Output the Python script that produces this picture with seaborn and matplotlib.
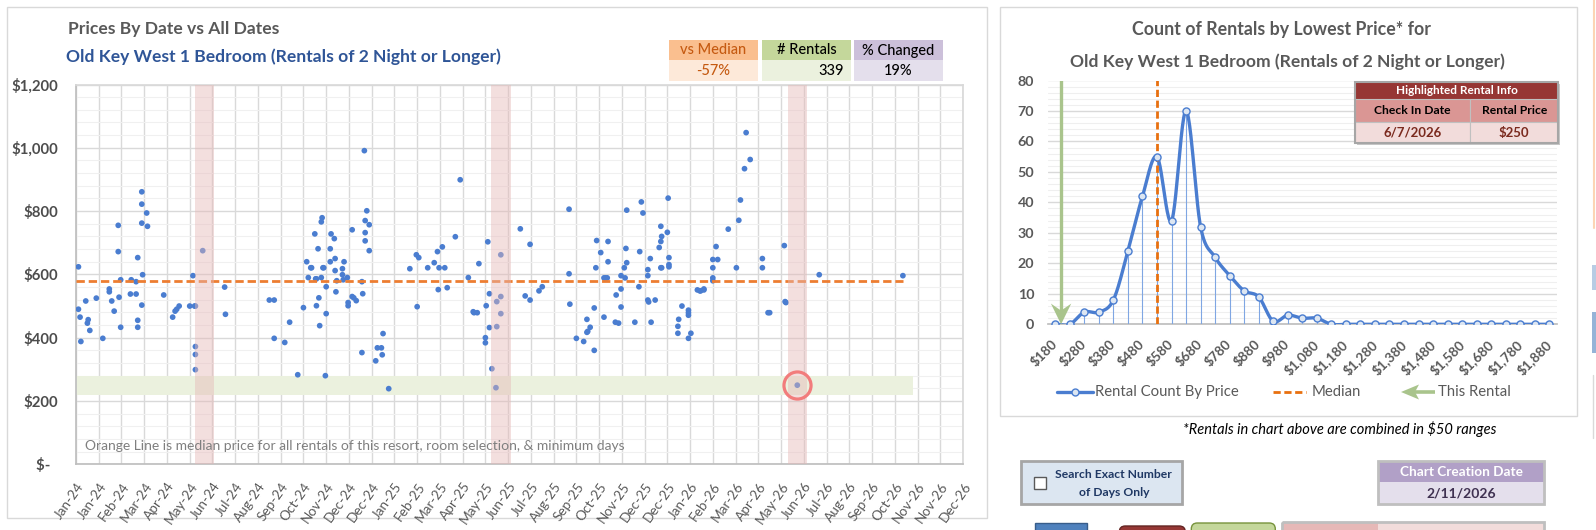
import matplotlib
matplotlib.use("Agg")
import matplotlib.pyplot as plt
import matplotlib.dates as mdates
import matplotlib.transforms as mtrans
from matplotlib.patches import Rectangle, FancyBboxPatch, Polygon
from matplotlib.ticker import MultipleLocator, FixedLocator
import seaborn as sns
import pandas as pd
import numpy as np

W, H = 1596, 530

# ---------------- data ----------------
# left chart: check-in day (days after 2024-01-01) and lowest price
rental_day = [
    3, 3, 5, 6, 12, 14, 15, 17, 25, 33, 41, 41, 44, 47, 52, 52, 53, 55, 55, 68,
    67, 74, 74, 76, 76, 76, 81, 81, 81, 87, 88, 82, 81, 108, 119, 122, 124, 127, 140, 144,
    146, 147, 147, 147, 147, 156, 183, 184, 238, 244, 244, 257, 263, 273,
    280, 284, 286, 289, 290, 294, 295, 296, 296, 298, 299, 300, 302, 302, 303, 304,
    305, 307, 308, 308, 313, 313, 314, 318, 319, 319, 320, 321, 328, 328, 329, 330,
    334, 335, 335, 340, 340, 342, 345, 352, 353, 352, 355, 356, 356, 356, 358, 361,
    361, 369, 371, 376, 377, 378, 385, 411, 419, 422, 420, 433, 441, 445, 447, 451,
    454, 446, 457, 467, 473, 483, 489, 490, 494, 496, 504, 504, 505, 507, 509, 509,
    512, 517, 518, 518, 523, 523, 523, 547,
    559, 553, 559, 570, 574, 607, 607, 608, 616, 625, 629, 629, 630, 633, 638, 638,
    640, 641, 646, 650, 652, 654, 655, 655, 650, 664, 665, 668, 671, 671, 671, 675,
    676, 677, 678, 678, 688, 693, 694, 696, 698, 704, 704, 704, 705, 707, 708, 713,
    718, 720, 720, 721, 720, 721, 728, 729, 730, 730, 730, 741, 741, 742, 746, 754,
    754, 754, 754, 757, 765, 768, 769, 773, 773, 784, 784, 784, 784, 788, 790, 803,
    813, 816, 818,
    823, 825, 830, 845, 845, 852, 854, 872, 873, 874, 888, 915, 1018,
]
rental_price = [
    624, 490, 465, 388, 516, 446, 457, 423, 525, 398, 554, 545, 516, 484, 755, 672, 528, 583, 433, 583,
    538, 577, 538, 653, 455, 433, 861, 822, 762, 794, 752, 599, 503, 535, 465, 484, 490, 500, 500, 596,
    500, 500, 372, 347, 299, 675, 560, 474, 519, 519, 398, 385, 449, 283,
    495, 640, 590, 621, 621, 728, 586, 586, 501, 681, 526, 438, 590, 766, 779, 621,
    621, 280, 561, 476, 681, 640, 728, 713, 650, 612, 545, 580, 599, 618, 583, 640,
    590, 511, 501, 530, 741, 526, 517, 577, 539, 353, 991, 770, 732, 706, 801, 757,
    675, 327, 368, 368, 346, 413, 239, 618, 662, 653, 498, 621, 637, 672, 621, 687,
    621, 552, 558, 719, 899, 590, 482, 479, 479, 634, 400, 384, 501, 703, 539, 432,
    302, 242, 514, 435, 662, 530, 476, 744,
    695, 532, 519, 548, 561, 806, 602, 506, 398, 388, 458, 417, 420, 433, 494, 360,
    621, 707, 669, 589, 589, 589, 704, 640, 465, 449, 535, 446, 596, 554, 497, 621,
    589, 682, 803, 637, 449, 561, 672, 829, 794, 615, 596, 519, 513, 650, 449, 519,
    685, 704, 621, 621, 752, 720, 733, 841, 653, 631, 624, 436, 414, 458, 500, 487,
    479, 471, 398, 414, 551, 548, 548, 554, 551, 647, 621, 589, 580, 688, 647, 743,
    621, 771, 835,
    934, 1048, 963, 650, 621, 479, 479, 691, 514, 511, 250, 599, 596,
]
median_price = 580
median_end_day = 1018
band_end_day = 1031
highlight_date = "2026-06-07"
highlight_price = 250
highlight_years = [2024, 2025, 2026]
price_ticks = [0, 200, 400, 600, 800, 1000, 1200]
price_tick_labels = ["$-  ", "$200", "$400", "$600", "$800", "$1,000", "$1,200"]

# right chart: counts per $50 range
bin_labels = ["$180", "$230", "$280", "$330", "$380", "$430", "$480", "$530", "$580", "$630",
              "$680", "$730", "$780", "$830", "$880", "$930", "$980", "$1,030", "$1,080", "$1,130",
              "$1,180", "$1,230", "$1,280", "$1,330", "$1,380", "$1,430", "$1,480", "$1,530",
              "$1,580", "$1,630", "$1,680", "$1,730", "$1,780", "$1,830", "$1,880"]
bin_counts = [0, 0, 4, 4, 8, 24, 42, 55, 34, 70, 32, 22, 16, 11, 9, 1, 3, 2, 2, 0,
              0, 0, 0, 0, 0, 0, 0, 0, 0, 0, 0, 0, 0, 0, 0]
median_bin = "$530"
this_rental_pos = 0.4

GRAY = "#595959"
BLUE = "#4A7DD0"


def box(x0, y0, x1, y1):
    return [x0 / W, 1 - y1 / H, (x1 - x0) / W, (y1 - y0) / H]


def smooth_curve(y, n=24):
    # excel style smoothed line (catmull-rom)
    y = np.asarray(y, float)
    m = np.gradient(y)
    t = np.linspace(0, 1, n, endpoint=False)
    h00 = 2 * t**3 - 3 * t**2 + 1
    h10 = t**3 - 2 * t**2 + t
    h01 = -2 * t**3 + 3 * t**2
    h11 = t**3 - t**2
    xs, ys = [], []
    for i in range(len(y) - 1):
        xs.append(i + t)
        ys.append(h00 * y[i] + h10 * m[i] + h01 * y[i + 1] + h11 * m[i + 1])
    xs.append([len(y) - 1])
    ys.append([y[-1]])
    return np.concatenate(xs), np.concatenate(ys)


sns.set_theme(style="white")
plt.rcParams["font.family"] = ["Lato", "DejaVu Sans"]

fig = plt.figure(figsize=(W / 100, H / 100), dpi=100)
fig.patch.set_facecolor("white")

bg = fig.add_axes([0, 0, 1, 1], zorder=0)
bg.set_xlim(0, W)
bg.set_ylim(H, 0)
bg.axis("off")
bg.add_patch(Rectangle((7, 7), 980, 511, fc="white", ec="#D9D9D9", lw=1))
bg.add_patch(Rectangle((1000, 7), 577, 409, fc="white", ec="#D9D9D9", lw=1))

# ---------------- left chart ----------------
start = pd.Timestamp("2024-01-01")
df = pd.DataFrame({"date": start + pd.to_timedelta(rental_day, unit="D"),
                   "price": rental_price})

axL = fig.add_axes(box(76, 84.5, 963, 464.3), zorder=2)
axL.set_facecolor("none")
axL.axhspan(220, 280, xmin=0, xmax=band_end_day / 1092, color="#EBF1DE", lw=0, zorder=1)
sns.scatterplot(data=df, x="date", y="price", ax=axL, s=17, color=BLUE,
                edgecolor="none", zorder=3, legend=False)
axL.plot([start, start + pd.Timedelta(days=median_end_day)], [median_price, median_price],
         color="#ED7D31", lw=2, dashes=(3, 1.4), zorder=3.5)
for yr in highlight_years:
    c = pd.Timestamp(f"{yr}-06-07")
    axL.axvspan(c - pd.Timedelta(days=12), c + pd.Timedelta(days=12),
                color="#E6B8B7", alpha=0.45, lw=0, zorder=4)
axL.plot([pd.Timestamp(highlight_date)], [highlight_price], "o", ms=19.5, mfc="none",
         mec="#F27C7C", mew=2.3, zorder=6)

ticks = [start + pd.Timedelta(days=28 * k) for k in range(40)]
axL.set_xlim(start, start + pd.Timedelta(days=1092))
axL.set_ylim(0, 1200)
axL.set_xticks(ticks)
axL.xaxis.set_major_formatter(mdates.DateFormatter("%b-%y"))
axL.set_yticks(price_ticks, labels=price_tick_labels)
axL.yaxis.set_minor_locator(MultipleLocator(40))
axL.set_xlabel("")
axL.set_ylabel("")
axL.grid(True, which="major", color="#D9D9D9", lw=1)
axL.grid(True, which="minor", axis="y", color="#F0F0F0", lw=0.8)
axL.set_axisbelow(True)
for s in axL.spines.values():
    s.set_color("#D9D9D9")
axL.spines["bottom"].set_color("#BFBFBF")
axL.spines["left"].set_color("#BFBFBF")
axL.tick_params(axis="x", length=4, color="#BFBFBF", pad=10, labelsize=9.8, labelcolor=GRAY)
axL.tick_params(axis="y", which="both", length=0, pad=13, labelsize=10.7, labelcolor="#4D4D4D")
for lab in axL.get_xticklabels():
    lab.set_rotation(55)
    lab.set_ha("right")
    lab.set_va("center")
    lab.set_rotation_mode("anchor")
    lab.set_transform(lab.get_transform() + mtrans.ScaledTranslation(5 / 100, 0, fig.dpi_scale_trans))
for lab in axL.get_yticklabels():
    lab.set_fontweight("bold")

# ---------------- right chart ----------------
x = np.arange(len(bin_counts))
sx, sy = smooth_curve(bin_counts)

axR = fig.add_axes(box(1048, 80.5, 1556.6, 324.3), zorder=2)
axR.set_facecolor("none")
axR.vlines(x, 0, bin_counts, color="#7FA6E3", lw=0.8, zorder=3)
sns.lineplot(x=sx, y=sy, ax=axR, color=BLUE, lw=2.4, estimator=None, sort=False, zorder=4)
sns.scatterplot(x=x, y=bin_counts, ax=axR, s=26, color="#DCE6F2", edgecolor=BLUE,
                linewidth=1, zorder=5, legend=False)
axR.axvline(bin_labels.index(median_bin), color="#E8700F", lw=2, dashes=(2.6, 1.3), zorder=4.5)
# this rental arrow
axR.plot([this_rental_pos, this_rental_pos], [80, 4.5], color="#A9C48C", lw=2.4, zorder=6,
         solid_capstyle="butt")
axR.add_patch(Polygon([(this_rental_pos - 0.7, 6.8), (this_rental_pos, 0),
                       (this_rental_pos + 0.7, 6.8), (this_rental_pos, 4.5)],
                      closed=True, fc="#A9C48C", ec="none", zorder=6, clip_on=False))
axR.set_xlim(-0.5, len(bin_counts) - 0.5)
axR.set_ylim(0, 80)
axR.yaxis.set_major_locator(MultipleLocator(10))
axR.yaxis.set_minor_locator(MultipleLocator(2))
axR.set_xticks(x[::2])
axR.set_xticklabels(bin_labels[::2])
axR.xaxis.set_minor_locator(FixedLocator(np.arange(-0.5, len(bin_counts), 1)))
axR.grid(True, which="major", axis="y", color="#D9D9D9", lw=1)
axR.grid(True, which="minor", axis="y", color="#EFEFEF", lw=0.8)
axR.set_axisbelow(True)
for k in ["top", "right", "left"]:
    axR.spines[k].set_visible(False)
axR.spines["bottom"].set_color("#BFBFBF")
axR.tick_params(axis="x", which="major", length=0, pad=13, labelsize=9.8, labelcolor=GRAY)
axR.tick_params(axis="x", which="minor", length=4, color="#BFBFBF", direction="out")
axR.tick_params(axis="y", which="both", length=0, pad=10, labelsize=10.3, labelcolor=GRAY)
for lab in axR.get_xticklabels():
    lab.set_rotation(45)
    lab.set_ha("right")
    lab.set_va("center")
    lab.set_rotation_mode("anchor")
    lab.set_fontweight("bold")
for lab in axR.get_yticklabels():
    lab.set_fontweight("bold")

# ---------------- overlay: titles, tables, widgets ----------------
ov = fig.add_axes([0, 0, 1, 1], zorder=10)
ov.set_xlim(0, W)
ov.set_ylim(H, 0)
ov.axis("off")
ov.patch.set_visible(False)

ov.text(68, 29, "Prices By Date vs All Dates", fontsize=12.6, fontweight="bold", color=GRAY, va="center")
ov.text(66, 57, "Old Key West 1 Bedroom (Rentals of 2 Night or Longer)", fontsize=12.6,
        fontweight="bold", color="#2F5597", va="center")
ov.text(1282, 30, "Count of Rentals by Lowest Price* for", fontsize=12.8, fontweight="bold",
        color=GRAY, ha="center", va="center")
ov.text(1287, 62, "Old Key West 1 Bedroom (Rentals of 2 Night or Longer)", fontsize=12.6,
        fontweight="bold", color=GRAY, ha="center", va="center")
ov.text(85, 446, "Orange Line is median price for all rentals of this resort, room selection, & minimum days",
        fontsize=10, color="#7F7F7F", va="center")

# stat boxes
stats = [
    (669, 757.7, "vs Median", "-57%", "#FABF8F", "#FDE9D9", "#C55A11", "center"),
    (762, 850.7, "# Rentals", "339", "#C4D79B", "#EBF1DE", "black", "right"),
    (854, 942.7, "% Changed", "19%", "#CCC0DA", "#E4DFEC", "black", "center"),
]
for x0, x1, head, val, c1, c2, tc, ha in stats:
    ov.add_patch(Rectangle((x0, 40), x1 - x0, 20, fc=c1, ec="none"))
    ov.add_patch(Rectangle((x0, 60), x1 - x0, 21, fc=c2, ec="none"))
    ov.text((x0 + x1) / 2, 50.5, head, fontsize=10.5, fontweight="medium", color=tc,
            ha="center", va="center")
    vx = (x0 + x1) / 2 if ha == "center" else x1 - 7
    ov.text(vx, 71, val, fontsize=10.5, fontweight="medium", color=tc, ha=ha, va="center")

# highlighted rental table
tx0, tx1, tmid = 1355.3, 1558.3, 1470.3
ov.add_patch(Rectangle((tx0 + 2, 83.7), tx1 - tx0, 143.3 - 81.7, fc="#C8C8C8", ec="none"))
ov.add_patch(Rectangle((tx0, 81.7), tx1 - tx0, 17.3, fc="#963634", ec="none"))
for cx0, cx1 in [(tx0, tmid), (tmid, tx1)]:
    ov.add_patch(Rectangle((cx0, 99), cx1 - cx0, 22.7, fc="#DA9694", ec="#C0C0C0", lw=0.8))
    ov.add_patch(Rectangle((cx0, 121.7), cx1 - cx0, 21.6, fc="#F2DCDB", ec="#C0C0C0", lw=0.8))
ov.add_patch(Rectangle((tx0, 81.7), tx1 - tx0, 61.6, fc="none", ec="#A6A6A6", lw=1.5))
ov.text((tx0 + tx1) / 2, 90.5, "Highlighted Rental Info", fontsize=8.5, fontweight="bold",
        color="white", ha="center", va="center")
ov.text((tx0 + tmid) / 2, 110.5, "Check In Date", fontsize=8.7, fontweight="bold",
        color="black", ha="center", va="center")
ov.text((tmid + tx1) / 2, 110.5, "Rental Price", fontsize=8.7, fontweight="bold",
        color="black", ha="center", va="center")
ov.text((tx0 + tmid) / 2, 132.5, "6/7/2026", fontsize=9.5, fontweight="bold",
        color="#7B2A1E", ha="center", va="center")
ov.text((tmid + tx1) / 2, 132.5, f"${highlight_price}", fontsize=9.5, fontweight="bold",
        color="#7B2A1E", ha="center", va="center")

# legend of right chart
ov.plot([1057, 1093], [392, 392], color=BLUE, lw=2.4)
ov.plot([1075], [392], "o", ms=5, mfc="#DCE6F2", mec=BLUE, mew=1)
ov.text(1095, 392, "Rental Count By Price", fontsize=10.7, color=GRAY, va="center")
ov.plot([1273, 1306], [392, 392], color="#E8700F", lw=2, dashes=(2.6, 1.3))
ov.text(1312, 392, "Median", fontsize=10.7, color=GRAY, va="center")
ov.plot([1414, 1435], [392, 392], color="#A9C48C", lw=2.6, solid_capstyle="butt")
ov.add_patch(Polygon([(1419, 384.5), (1401, 392), (1419, 399.5), (1415, 392)],
                     closed=True, fc="#A9C48C", ec="none"))
ov.text(1438, 392, "This Rental", fontsize=10.7, color=GRAY, va="center")

ov.text(1340, 429, "*Rentals in chart above are combined in $50 ranges", fontsize=10.5,
        style="italic", color="black", ha="center", va="center")

# checkbox widget
ov.add_patch(Rectangle((1020.5, 461), 161, 43, fc="#DCE6F1", ec="#A6A6A6", lw=2))
ov.add_patch(Rectangle((1034, 477), 12, 12, fc="white", ec="#595959", lw=1))
ov.text(1113.5, 475, "Search Exact Number", fontsize=8.7, fontweight="bold", color="#1F3864",
        ha="center", va="center")
ov.text(1114, 492, "of Days Only", fontsize=8.7, fontweight="bold", color="#1F3864",
        ha="center", va="center")

# chart creation date
ov.add_patch(Rectangle((1377.7, 461), 166.6, 21.3, fc="#B1A0C7", ec="none"))
ov.add_patch(Rectangle((1377.7, 482.3), 166.6, 21.7, fc="#E4DFEC", ec="none"))
ov.add_patch(Rectangle((1377.7, 461), 166.6, 43, fc="none", ec="#BFBFBF", lw=2))
ov.text(1461, 472, "Chart Creation Date", fontsize=9.8, fontweight="bold", color="white",
        ha="center", va="center")
ov.text(1461, 494, "2/11/2026", fontsize=10, fontweight="bold", color="#3F3151",
        ha="center", va="center")

# partially visible shapes at the bottom and right edge
ov.add_patch(Rectangle((1035.4, 522.7), 52, 12, fc="#4F81BD", ec="#385D8A", lw=1))
ov.add_patch(FancyBboxPatch((1119.3, 526), 66, 14, boxstyle="round,pad=0,rounding_size=6",
                            fc="#953735", ec="#632523", lw=1))
ov.add_patch(FancyBboxPatch((1191.3, 523), 84, 17, boxstyle="round,pad=0,rounding_size=6",
                            fc="#C4D79B", ec="#77933C", lw=1))
ov.add_patch(Rectangle((1282, 521.7), 95.7, 12, fc="#E6B8B7", ec="none"))
ov.add_patch(Rectangle((1377.7, 521.7), 166.6, 12, fc="#F2DCDB", ec="none"))
ov.add_patch(Rectangle((1282, 521.7), 262.3, 12, fc="none", ec="#BFBFBF", lw=2))
ov.plot([1594, 1594], [0, 228], color="#FCD5B4", lw=1.5)
ov.add_patch(Rectangle((1592, 265), 5, 25, fc="#B8CCE4", ec="none"))
ov.add_patch(Rectangle((1592, 312), 5, 41, fc="#95B3D7", ec="none"))
ov.plot([1593, 1593], [375, 438], color="#D9D9D9", lw=1)

fig.savefig("out.png", dpi=100, facecolor="white")
